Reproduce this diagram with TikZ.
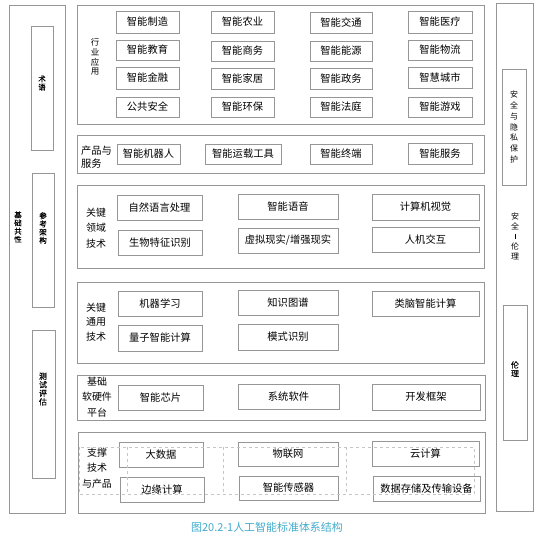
\documentclass[tikz,border=0pt]{standalone}
\usepackage{fontspec}
\setmainfont{Noto Sans CJK SC}
\newfontfamily\heavycjk[FakeBold=0.6]{Noto Sans CJK SC}
\definecolor{framegray}{RGB}{150,150,150}
\definecolor{capteal}{RGB}{64,172,204}

% box from corner (x1,y1) to (x2,y2), pixel coordinates
\newcommand{\stdbox}[6]{%
  \node[item, minimum width={(#4-#2)*1bp}, minimum height={(#5-#3)*1bp}]
    (#1) at ({(#2+#4)/2},{(#3+#5)/2}) {#6};}
\newcommand{\frbox}[5]{%
  \node[panel, minimum width={(#4-#2)*1bp}, minimum height={(#5-#3)*1bp}]
    (#1) at ({(#2+#4)/2},{(#3+#5)/2}) {};}

\begin{document}
\begin{tikzpicture}[x=1bp, y=-1bp,
  panel/.style={draw=framegray, line width=0.9bp, inner sep=0pt},
  item/.style={draw=framegray, line width=0.9bp, inner sep=0pt,
               font=\fontsize{10.3}{12}\selectfont},
  rowlabel/.style={align=center, inner sep=0pt, font=\fontsize{10}{15.5}\selectfont},
  vtext/.style={align=center, inner sep=0pt, font=\heavycjk\fontsize{7.5}{8.2}\selectfont},
  group/.style={draw=gray!45, dashed, line width=0.6bp}]

\useasboundingbox (0,0) rectangle (547,542);

%---------------------------------------
% Left column: basic common standards
%---------------------------------------
\frbox{colBase}{9}{5}{65}{513}
\node[vtext] (base) at (18,227) {基\\础\\共\\性};

\frbox{term}{31}{26}{53}{150}
\node[vtext] (term-t) at (42,83) {术\\语};

\frbox{arch}{32}{173}{54}{307}
\node[vtext] (arch-t) at (43,228) {参\\考\\架\\构};

\frbox{test}{32}{330}{55}{478}
\node[vtext, font=\heavycjk\fontsize{8}{8.6}\selectfont] (test-t) at (43,389) {测\\试\\评\\估};

%---------------------------------------
% Right column: safety and ethics
%---------------------------------------
\frbox{colSafe}{496}{3}{533}{511}

\frbox{privacy}{502}{69}{526}{185}
\node[vtext, font=\fontsize{8}{11}\selectfont] (privacy-t) at (514,127)
  {安\\全\\与\\隐\\私\\保\\护};

\node[vtext, font=\fontsize{8}{10}\selectfont] (safe-t) at (515,236)
  {安\\全\\\rule{0.6bp}{5bp}\\伦\\理};

\frbox{ethics}{503}{305}{527}{440}
\node[vtext, font=\heavycjk\fontsize{8}{8.5}\selectfont] (ethics-t) at (515,369) {伦\\理};

%---------------------------------------
% Industry applications
%---------------------------------------
\frbox{pApp}{77}{5}{484}{124}
\node[rowlabel, font=\fontsize{8.5}{9.7}\selectfont] (app-t) at (95,57) {行\\业\\应\\用};

\stdbox{mfg}{116}{11}{179}{33}{智能制造}
\stdbox{agri}{211}{11}{274}{33}{智能农业}
\stdbox{traffic}{310}{12}{372}{33}{智能交通}
\stdbox{medical}{408}{11}{472}{33}{智能医疗}

\stdbox{edu}{116}{40}{179}{60}{智能教育}
\stdbox{commerce}{211}{41}{274}{61}{智能商务}
\stdbox{energy}{310}{41}{372}{61}{智能能源}
\stdbox{logistics}{408}{40}{472}{60}{智能物流}

\stdbox{finance}{116}{67}{179}{89}{智能金融}
\stdbox{home}{211}{68}{274}{89}{智能家居}
\stdbox{gov}{310}{68}{372}{89}{智能政务}
\stdbox{city}{408}{67}{472}{88}{智慧城市}

\stdbox{security}{116}{97}{179}{117}{公共安全}
\stdbox{env}{211}{97}{274}{117}{智能环保}
\stdbox{court}{310}{97}{372}{117}{智能法庭}
\stdbox{game}{408}{97}{472}{117}{智能游戏}

%---------------------------------------
% Products and services
%---------------------------------------
\frbox{pProd}{77}{135}{484}{173}
\node[rowlabel, align=left, font=\fontsize{10.3}{12.5}\selectfont, anchor=west]
  (prod-t) at (81,157) {产品与\\服务};

\stdbox{robot}{117}{144}{180}{164}{智能机器人}
\stdbox{vehicle}{205}{144}{281}{164}{智能运载工具}
\stdbox{terminal}{310}{144}{372}{164}{智能终端}
\stdbox{service}{408}{143}{472}{164}{智能服务}

%---------------------------------------
% Key domain technologies
%---------------------------------------
\frbox{pDomain}{77}{185}{484}{268}
\node[rowlabel] (domain-t) at (96,228) {关键\\领域\\技术};

\stdbox{nlp}{117}{195}{202}{220}{自然语言处理}
\stdbox{speech}{238}{194}{338}{219}{智能语音}
\stdbox{cv}{372}{194}{479}{220}{计算机视觉}
\stdbox{biometric}{118}{230}{202}{255}{生物特征识别}
\stdbox{vrar}{238}{228}{338}{253}{虚拟现实/增强现实}
\stdbox{hci}{372}{227}{479}{252}{人机交互}

%---------------------------------------
% Key common technologies
%---------------------------------------
\frbox{pCommon}{77}{282}{484}{363}
\node[rowlabel, font=\fontsize{10}{14.5}\selectfont] (common-t) at (96,322) {关键\\通用\\技术};

\stdbox{ml}{118}{291}{202}{316}{机器学习}
\stdbox{kg}{238}{290}{338}{315}{知识图谱}
\stdbox{brain}{372}{291}{479}{316}{类脑智能计算}
\stdbox{quantum}{118}{325}{202}{351}{量子智能计算}
\stdbox{pattern}{238}{324}{338}{350}{模式识别}

%---------------------------------------
% Basic software / hardware platform
%---------------------------------------
\frbox{pPlatform}{77}{375}{485}{420}
\node[rowlabel] (platform-t) at (97,397) {基础\\软硬件\\平台};

\stdbox{chip}{118}{385}{203}{410}{智能芯片}
\stdbox{syssw}{238}{384}{339}{409}{系统软件}
\stdbox{framework}{372}{384}{480}{410}{开发框架}

%---------------------------------------
% Supporting technologies and products
%---------------------------------------
\frbox{pSupport}{78}{432}{485}{513}
\node[rowlabel] (support-t) at (97,468) {支撑\\技术\\与产品};

\stdbox{bigdata}{119}{442}{203}{467}{大数据}
\stdbox{edge}{120}{477}{204}{502}{边缘计算}
\stdbox{iot}{238}{442}{338}{466}{物联网}
\stdbox{sensor}{239}{476}{338}{500}{智能传感器}
\stdbox{cloud}{372}{441}{479}{466}{云计算}
\stdbox{storage}{373}{476}{480}{501}{数据存储及传输设备}

% dashed grouping
\draw[group] (79,447) rectangle (474,494);
\draw[group] (127,447) -- (127,494);
\draw[group] (223,447) -- (223,494);
\draw[group] (346,447) -- (346,494);

% caption
\node[text=capteal, font=\fontsize{11}{13}\selectfont] (caption) at (267,527)
  {图20.2-1人工智能标准体系结构};

\end{tikzpicture}
\end{document}
